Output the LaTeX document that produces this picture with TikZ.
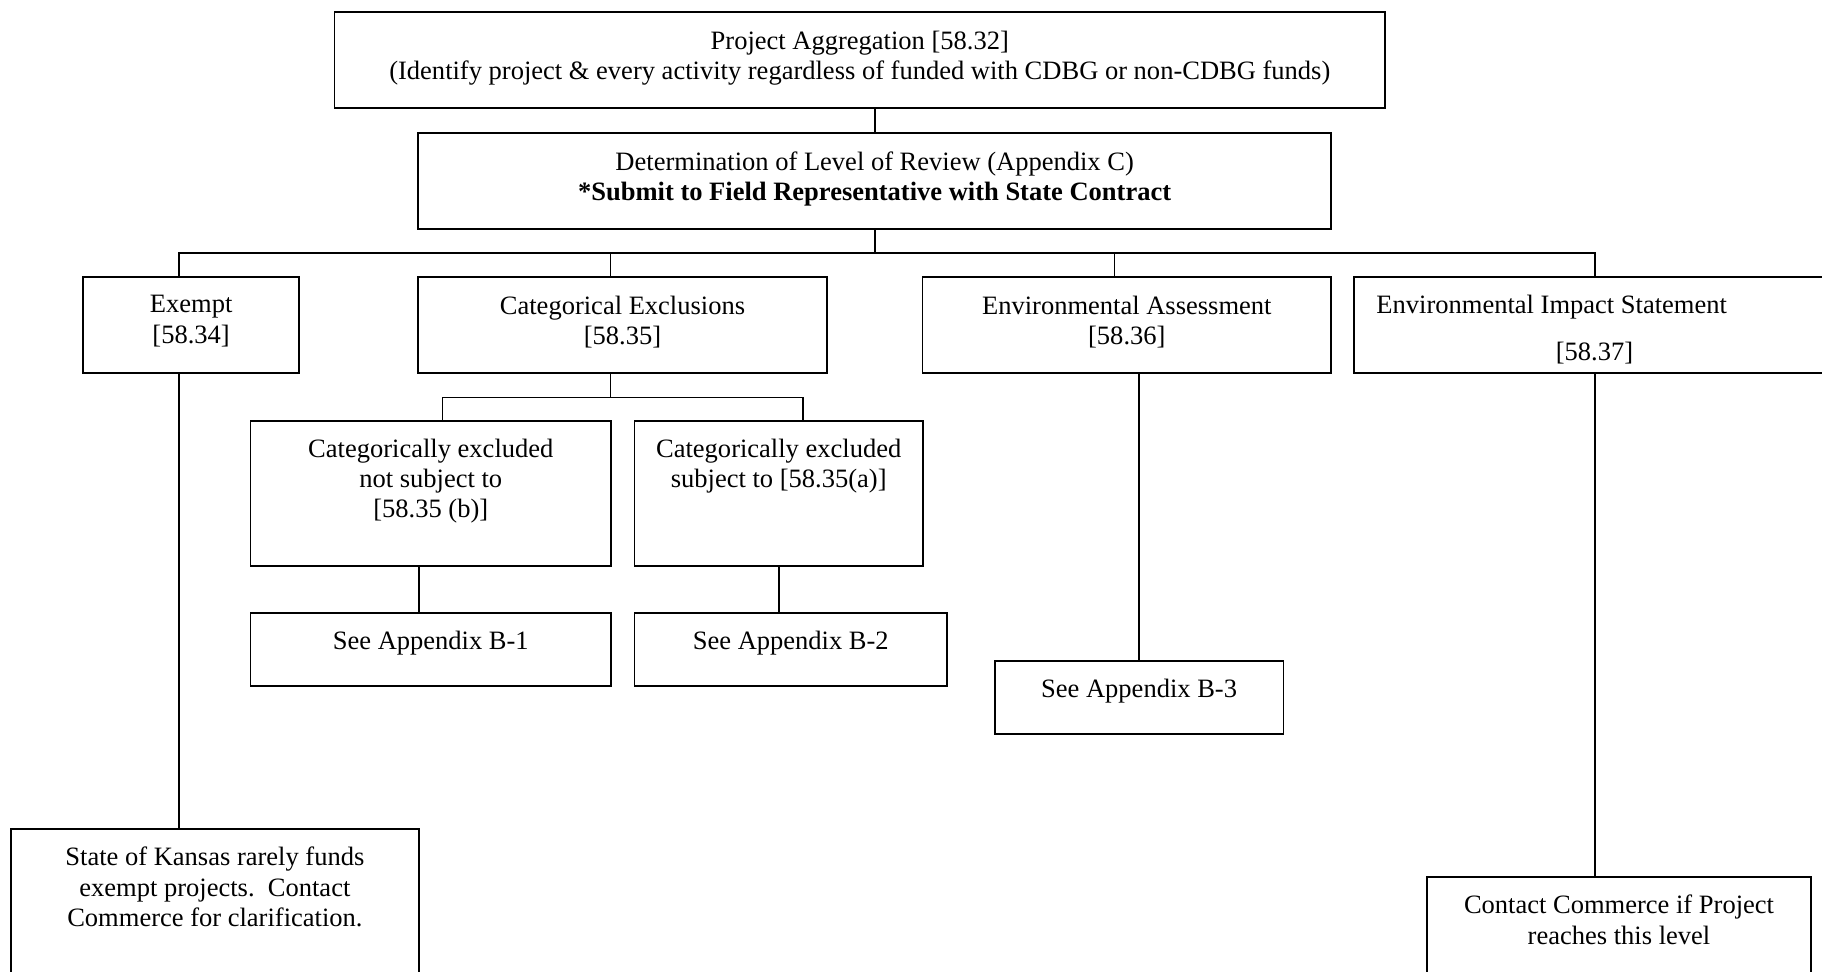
\documentclass[tikz,border=0pt]{standalone}
\usepackage{fontspec}
\setmainfont{Liberation Serif}
\usetikzlibrary{calc}
\def\pxu{0.4545}
\begin{document}
\begin{tikzpicture}[x=0.4545pt, y=-0.4545pt,
  box/.style 2 args={draw, line width=0.8pt, rectangle, inner sep=0pt, minimum width=#1*\pxu pt, minimum height=#2*\pxu pt},
  txt/.style={anchor=north, align=center, inner sep=0pt, font=\fontsize{12.05}{13.8}\selectfont, execute at begin node=\strut},
  conn/.style={line width=0.8pt}]
\useasboundingbox (0,0) rectangle (1822,971);
\clip (0,0) rectangle (1822,971);
% boxes
\node[box={1050.4}{96}] (pa) at (859.8,60.3) {};
\node[box={912.7}{96}] (dlr) at (874.65,181.3) {};
\node[box={216.1}{96.6}] (ex) at (191.15,325) {};
\node[box={408.4}{96.6}] (cx) at (622.5,325) {};
\node[box={408.4}{96.6}] (ea) at (1126.8,325) {};
\node[box={481.4}{96.6}] (eis) at (1595,325) {};
\node[box={360.4}{144.8}] (cn) at (430.8,493.4) {};
\node[box={288.2}{144.8}] (cs) at (778.7,493.4) {};
\node[box={360.4}{72.9}] (b1) at (430.8,649.55) {};
\node[box={312.4}{72.9}] (b2) at (790.8,649.55) {};
\node[box={288.8}{72.9}] (b3) at (1139.1,697.25) {};
\node[box={408.2}{181}] (ks) at (214.9,919.5) {};
\node[box={384}{133}] (ct) at (1619,943.5) {};
% helper coordinates
\coordinate (bus) at (0,253.3);
\coordinate (sub) at (0,397.4);
\coordinate (exd) at (178.8,0);
\coordinate (cxd) at (610.6,0);
\coordinate (ead) at (1114.4,0);
\coordinate (cnd) at (442.6,0);
\coordinate (csd) at (803,0);
\coordinate (b1d) at (419,0);
% connectors
\draw[conn] (pa.south -| dlr.north) -- (dlr.north);
\draw[conn] (dlr.south) -- (dlr.south |- bus);
\draw[conn] (exd |- ex.north) |- (eis.north |- bus) -- (eis.north);
\draw[conn] (cxd |- bus) -- (cxd |- cx.north);
\draw[conn] (ead |- bus) -- (ead |- ea.north);
\draw[conn] (exd |- ex.south) -- (exd |- ks.north);
\draw[conn] (cxd |- cx.south) -- (cxd |- sub);
\draw[conn] (cnd |- cn.north) |- (csd |- sub) -- (csd |- cs.north);
\draw[conn] (b1d |- cn.south) -- (b1d |- b1.north);
\draw[conn] (cs.south) -- (cs.south |- b2.north);
\draw[conn] (b3.north |- ea.south) -- (b3.north);
\draw[conn] (eis.south) -- (eis.south |- ct.north);
% texts
\node[txt] (pa-t) at ([yshift=-8.6pt]pa.north) {Project Aggregation [58.32]\\(Identify project \& every activity regardless of funded with CDBG or non-CDBG funds)};
\node[txt] (dlr-t) at ([yshift=-8.6pt]dlr.north) {Determination of Level of Review (Appendix C)\\\textbf{*Submit to Field Representative with State Contract}};
\node[txt] (ex-t) at ([yshift=-8.8pt]ex.north) {Exempt\\{[58.34]}};
\node[txt] (cx-t) at ([yshift=-8.8pt]cx.north) {Categorical Exclusions\\{[58.35]}};
\node[txt] (ea-t) at ([yshift=-8.8pt]ea.north) {Environmental Assessment\\{[58.36]}};
\node[txt, anchor=base west] (eis-t1) at (1376,313.3) {Environmental Impact Statement};
\node[txt, anchor=base] (eis-t2) at (1594.5,360) {[58.37]};
\node[txt] (cn-t) at ([yshift=-8.2pt]cn.north) {Categorically excluded\\not subject to\\{[58.35 (b)]}};
\node[txt] (cs-t) at ([yshift=-8.2pt]cs.north) {Categorically excluded\\subject to [58.35(a)]};
\node[txt] (b1-t) at ([yshift=-7.0pt]b1.north) {See Appendix B-1};
\node[txt] (b2-t) at ([yshift=-7.0pt]b2.north) {See Appendix B-2};
\node[txt] (b3-t) at ([yshift=-7.4pt]b3.north) {See Appendix B-3};
\node[txt] (ks-t) at ([yshift=-8.4pt]ks.north) {State of Kansas rarely funds\\exempt projects.\ \ Contact\\Commerce for clarification.};
\node[txt] (ct-t) at ([yshift=-8.4pt]ct.north) {Contact Commerce if Project\\reaches this level};
\end{tikzpicture}
\end{document}
